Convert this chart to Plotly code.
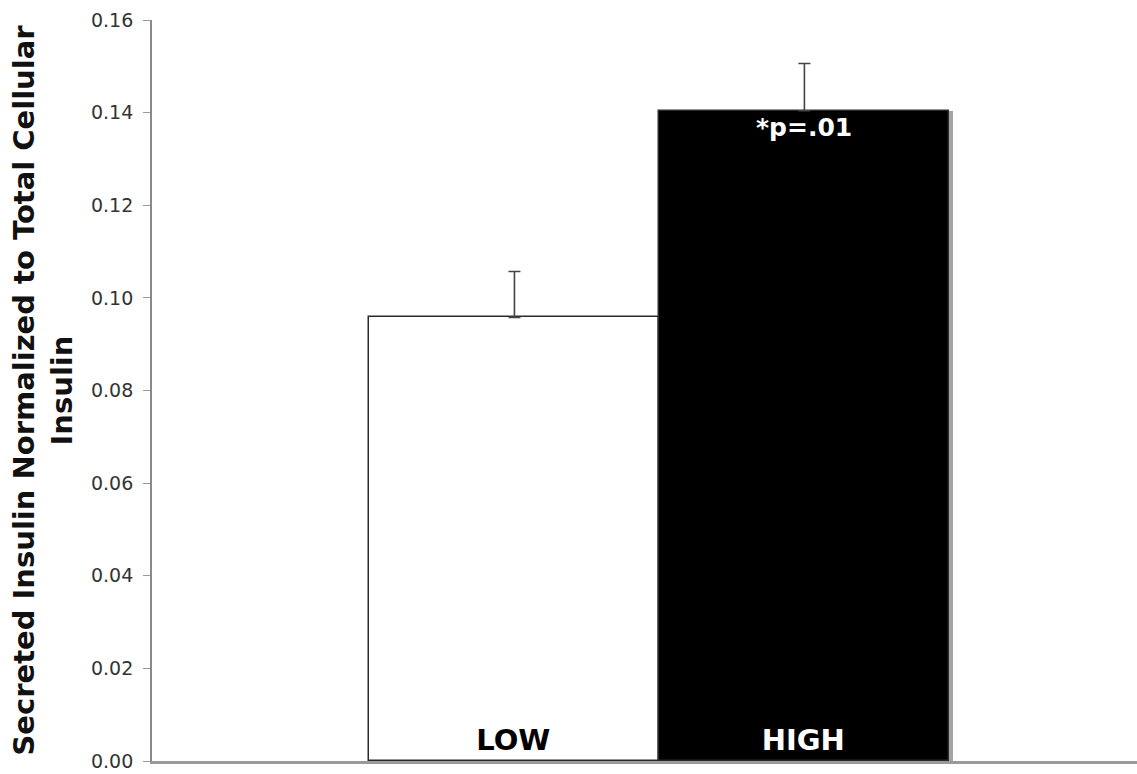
import plotly.graph_objects as go

# Insulin secretion data
groups = ["LOW", "HIGH"]
positions = [0, 1]
secreted_ratio = [0.0958, 0.1404]
error_upper = [0.0099, 0.0102]
bar_colors = ["#ffffff", "#000000"]
label_colors = ["#000000", "#ffffff"]
p_label = "*p=.01"

FONT = "DejaVu Sans"

fig = go.Figure()

# soft drop shadow behind each bar
fig.add_trace(go.Bar(
    x=[p + 0.011 for p in positions], y=secreted_ratio, width=1.0,
    marker=dict(color="rgba(90,90,90,0.55)", line=dict(width=0)),
    hoverinfo="skip", showlegend=False,
))

fig.add_trace(go.Bar(
    x=positions, y=secreted_ratio, width=1.0,
    marker=dict(color=bar_colors, line=dict(color="#2a2a2a", width=1.5)),
    error_y=dict(type="data", symmetric=False, array=error_upper,
                 arrayminus=[0, 0], color="#444444", thickness=1.6, width=6),
    text=[f"<b>{g}</b>" for g in groups],
    textposition="inside", insidetextanchor="start",
    insidetextfont=dict(family=FONT, size=29, color=label_colors),
    showlegend=False,
))

fig.add_annotation(
    x=positions[1], y=secreted_ratio[1], xref="x", yref="y",
    text=f"<b>{p_label}</b>", showarrow=False, yanchor="top", yshift=0,
    font=dict(family=FONT, size=25, color="#ffffff"),
)

fig.update_layout(
    width=1137, height=774,
    margin=dict(l=152, r=0, t=20, b=13),
    paper_bgcolor="white", plot_bgcolor="white",
    barmode="overlay", bargap=0,
    font=dict(family=FONT, color="#333333"),
    xaxis=dict(range=[-1.25, 2.147], showticklabels=False, ticks="",
               showgrid=False, zeroline=False, showline=True,
               linecolor="#9a9a9a", linewidth=2.5, automargin=False),
    yaxis=dict(range=[0, 0.16], dtick=0.02, tickformat=".2f",
               ticks="outside", ticklen=7, tickcolor="#9a9a9a", tickwidth=1.2,
               ticklabelstandoff=6, ticklabeloverflow="allow", automargin=False,
               showgrid=False, zeroline=False, showline=True,
               linecolor="#8a8a8a", linewidth=1.8,
               tickfont=dict(family=FONT, size=19, color="#333333"),
               title=dict(text="<b>Secreted Insulin Normalized to Total Cellular<br>Insulin</b>",
                          font=dict(family=FONT, size=29, color="#111111"),
                          standoff=10)),
)

fig.write_html("out.html")
